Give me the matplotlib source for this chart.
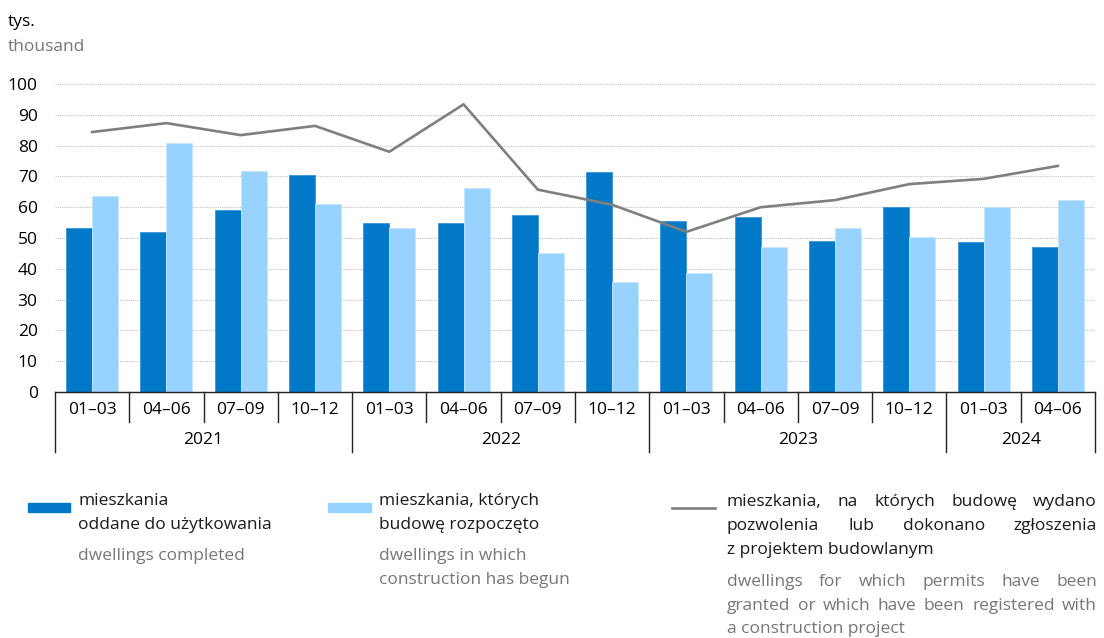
import numpy as np
import matplotlib
matplotlib.use("Agg")
import matplotlib.pyplot as plt
import matplotlib.transforms as mtransforms

plt.rcParams['font.family'] = ['Open Sans', 'DejaVu Sans']

# data (thousand dwellings), quarterly 2021 Q1 - 2024 Q2
quarters = ['01–03', '04–06', '07–09', '10–12'] * 3 + ['01–03', '04–06']
years = ['2021', '2022', '2023', '2024']
year_len = [4, 4, 4, 2]
completed = [53.2, 52.0, 59.0, 70.5, 54.9, 54.8, 57.4, 71.3, 55.4, 56.8, 49.0, 60.0, 48.7, 47.0]
started = [63.6, 81.0, 71.8, 61.0, 53.3, 66.3, 45.1, 35.6, 38.5, 47.0, 53.3, 50.3, 60.0, 62.3]
permits = [84.4, 87.3, 83.4, 86.4, 78.0, 93.4, 65.7, 60.8, 52.0, 60.0, 62.3, 67.5, 69.2, 73.4]

dark = '#0279C8'
light = '#97D3FE'
grey_line = '#7F7F7F'
grey_txt = '#767676'
fs = 12.5

fig = plt.figure(figsize=(11.04, 6.38), dpi=100)
ax = fig.add_axes([55/1104, 1-392/638, 1040/1104, 308/638])

x = np.arange(len(quarters))
w = 0.35
ax.bar(x - w/2, completed, w, color=dark, edgecolor='#3A95D6', linewidth=0.6, zorder=2)
ax.bar(x + w/2, started, w, color=light, edgecolor='#C4E6FE', linewidth=0.6, zorder=2)
ax.plot(x, permits, color=grey_line, lw=1.9, zorder=3)

ax.set_xlim(-0.5, len(quarters) - 0.5)
ax.set_ylim(0, 100)
ax.set_yticks(range(0, 101, 10))
ax.yaxis.grid(True, color='#C4C4C4', linestyle=(0, (1, 1)), linewidth=0.8, zorder=0)
for s in ['top', 'right', 'left']:
    ax.spines[s].set_visible(False)
ax.spines['bottom'].set_color('#222222')
ax.spines['bottom'].set_linewidth(1.0)
ax.tick_params(axis='y', length=0, pad=12.5, labelsize=fs)
ax.set_xticks(x)
ax.set_xticklabels(quarters, fontsize=fs)
ax.tick_params(axis='x', length=0, pad=7.5)

# separators below the axis
trans = mtransforms.blended_transform_factory(ax.transData, ax.transAxes)
px = 1 / 308  # one pixel in axes fraction
bounds = np.cumsum([0] + year_len) - 0.5
for b in np.arange(-0.5, len(quarters)):
    depth = 60 if np.isclose(bounds, b).any() else 30
    ax.plot([b, b], [0, -depth * px], color='#222222', lw=1.0, transform=trans, clip_on=False)
for yr, lo, hi in zip(years, bounds[:-1], bounds[1:]):
    ax.text((lo + hi) / 2, -48 * px, yr, transform=trans, ha='center', va='center', fontsize=fs)

# unit labels
fig.text(8/1104, 1-22/638, 'tys.', fontsize=fs, va='center', ha='left')
fig.text(8/1104, 1-47/638, 'thousand', fontsize=fs, va='center', ha='left', color=grey_txt)

# legend
renderer = fig.canvas.get_renderer()


def justify(words_line, x0, x1, ypix, color):
    ts = [fig.text(0, 1-ypix/638, wd, fontsize=fs, va='center', ha='left', color=color) for wd in words_line]
    widths = [t.get_window_extent(renderer).width for t in ts]
    gap = (x1 - x0 - sum(widths)) / (len(ts) - 1)
    pos = x0
    for t, wdt in zip(ts, widths):
        t.set_x(pos / 1104)
        pos += wdt + gap


def put(txt, xpix, ypix, color='#1A1A1A'):
    fig.text(xpix/1104, 1-ypix/638, txt, fontsize=fs, va='center', ha='left', color=color)


fig.patches.append(plt.Rectangle((28/1104, 1-512/638), 42/1104, 9/638, color=dark, transform=fig.transFigure))
put('mieszkania', 78, 501)
put('oddane do użytkowania', 78, 525)
put('dwellings completed', 78, 556, grey_txt)

fig.patches.append(plt.Rectangle((328/1104, 1-512/638), 43/1104, 9/638, color=light, transform=fig.transFigure))
put('mieszkania, których', 379, 501)
put('budowę rozpoczęto', 379, 525)
put('dwellings in which', 379, 556, grey_txt)
put('construction has begun', 379, 580, grey_txt)

fig.lines.append(plt.Line2D([672/1104, 715/1104], [1-508/638, 1-508/638], color=grey_line, lw=1.9, transform=fig.transFigure))
justify('mieszkania, na których budowę wydano'.split(), 727, 1097, 502, '#1A1A1A')
justify('pozwolenia lub dokonano zgłoszenia'.split(), 727, 1097, 526, '#1A1A1A')
put('z projektem budowlanym', 727, 550)
justify('dwellings for which permits have been'.split(), 727, 1097, 582, grey_txt)
justify('granted or which have been registered with'.split(), 727, 1097, 606, grey_txt)
put('a construction project', 727, 629, grey_txt)

fig.savefig('out.png', dpi=100)
